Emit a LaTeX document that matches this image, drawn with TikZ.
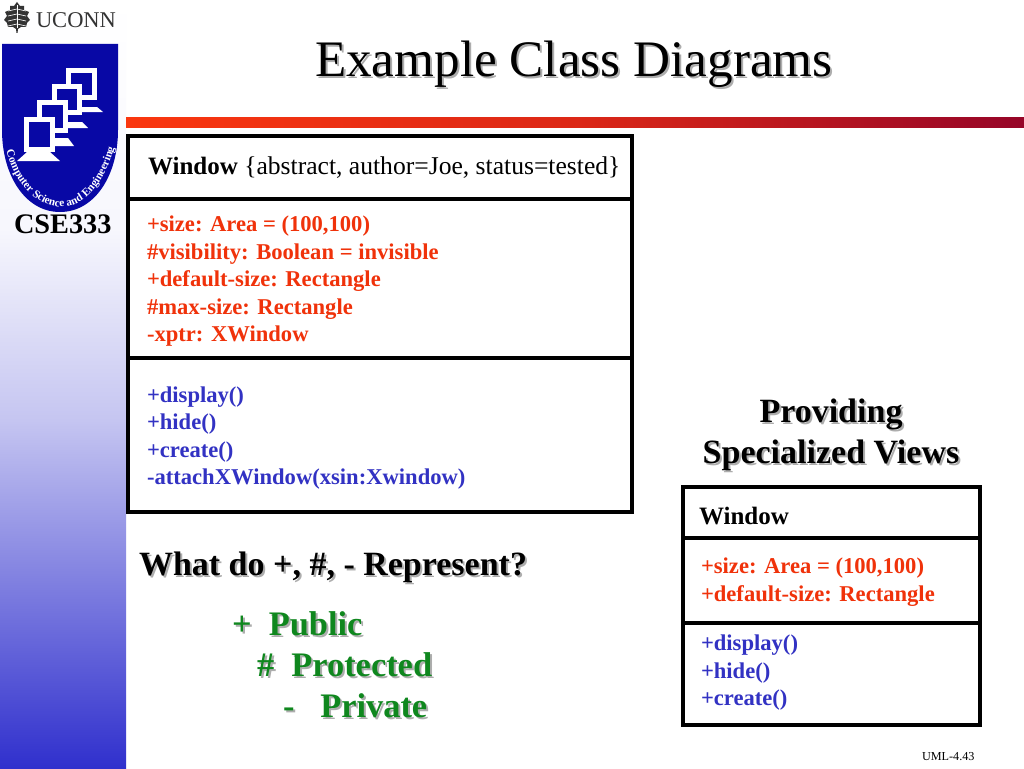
\documentclass[tikz,border=0pt]{standalone}
\usepackage{fontspec}
\setmainfont{Liberation Serif}
\usetikzlibrary{decorations.text,shadings}
\definecolor{sideblue}{RGB}{48,48,205}
\definecolor{logoblue}{RGB}{8,8,165}
\definecolor{redtxt}{RGB}{240,50,10}
\definecolor{bluetxt}{RGB}{50,50,195}
\definecolor{greentxt}{RGB}{15,135,30}
\definecolor{barred}{RGB}{250,55,15}
\definecolor{bardark}{RGB}{150,5,40}
\tikzset{
  txt/.style={anchor=base west,inner sep=0pt,outer sep=0pt},
  big/.style={txt,font=\fontsize{25.6}{25.6}\selectfont},
  attr/.style={txt,font=\fontsize{22.6}{22.6}\selectfont\bfseries,text=redtxt},
  oper/.style={txt,font=\fontsize{22.6}{22.6}\selectfont\bfseries,text=bluetxt},
  box/.style={draw=black,line width=4pt,fill=white},
  head/.style={txt,font=\fontsize{34}{34}\selectfont\bfseries},
  grn/.style={txt,font=\fontsize{34.4}{34.4}\selectfont\bfseries,text=greentxt},
  ctr/.style={anchor=base,inner sep=0pt,font=\fontsize{34}{34}\selectfont\bfseries},
  shd/.style={text=black!32},
  mon/.style={draw=white,line width=5pt,fill=logoblue},
  stand/.style={fill=white,draw=none},
}
\begin{document}
\begin{tikzpicture}[x=1pt,y=-1pt]
\useasboundingbox (0,0) rectangle (1024,768);
\fill[white] (0,0) rectangle (1024,768);
% sidebar
\shade[top color=white,bottom color=white!96!sideblue] (0,0) rectangle (126,230);
\shade[top color=white!96!sideblue,bottom color=white!72!sideblue] (0,230) rectangle (126,420);
\shade[top color=white!72!sideblue,bottom color=sideblue] (0,420) rectangle (126,768);
% bar
\shade[left color=barred,right color=bardark,middle color=barred!70!bardark] (126,117) rectangle (1024,127);
% uconn emblem
\fill[black!80] (17,2) -- (20,6) -- (24,6) -- (24,10) -- (29,12) -- (27,16) -- (30,20) -- (27,23) -- (26,27) -- (21,27) -- (18,29) -- (17.5,33) -- (16.5,33) -- (16,29) -- (13,27) -- (8,27) -- (7,23) -- (4,20) -- (7,16) -- (5,12) -- (10,10) -- (10,6) -- (14,6) -- cycle;
\foreach \yy in {9,14,19,24} {\draw[white,line width=.6pt] (8,\yy+2) -- (17,\yy) -- (26,\yy+2);}
\draw[white,line width=.6pt] (17,5) -- (17,28);
\node[txt,font=\fontsize{22.5}{22.5}\selectfont,text=black!80] (uconn) at (36,28) {UCONN};
% shield
\fill[logoblue] (2,44) -- (118,44) -- (118,130) .. controls (118,175) and (95,212) .. (60,212) .. controls (25,212) and (2,175) .. (2,130) -- cycle;
% monitors, back to front
\draw[mon] (68.5,70.5) rectangle (94.5,97.5);
\fill[stand] (82,107) -- (97,107) -- (103,112) -- (82,112) -- cycle;
\draw[mon] (54.5,86.5) rectangle (79.5,112.5);
\fill[stand] (68,122) -- (82,122) -- (88,128) -- (68,128) -- cycle;
\draw[mon] (39.5,102.5) rectangle (65.5,130.5);
\fill[stand] (55,138) -- (68,138) -- (74,146) -- (55,146) -- cycle;
\draw[mon] (26.5,119.5) rectangle (52.5,149.5);
\fill[stand] (27,152) -- (50,152) -- (60,161) -- (17,161) -- cycle;
\path[postaction={decorate,decoration={text along path,text align=center,
  text={|\fontsize{11.2}{11.2}\selectfont\bfseries\color{white}|Computer Science and Engineering}}}]
  (5,144) .. controls (11,180) and (35,207) .. (62,207) .. controls (86,207) and (107,180) .. (116,141);
\node[txt,font=\fontsize{28.3}{28.3}\selectfont\bfseries,text=black] (cse) at (14,233) {CSE333};
% title
\node[txt,font=\fontsize{51.2}{51.2}\selectfont,shd] (titles) at (317,78) {Example Class Diagrams};
\node[txt,font=\fontsize{51.2}{51.2}\selectfont] (title) at (315,76) {Example Class Diagrams};
% large class
\draw[box] (128,136) rectangle (632,512);
\draw[line width=4pt] (128,199) -- (632,199);
\draw[line width=4pt] (128,358) -- (632,358);
\node[big] (wname) at (148,174) {{\fontsize{25}{25}\selectfont\textbf{Window}} \{abstract, author=Joe, status=tested\}};
\node[attr] (a1) at (147,231) {+size: Area = (100,100)};
\node[attr] (a2) at (147,259) {\#visibility: Boolean = invisible};
\node[attr] (a3) at (147,286) {+default-size: Rectangle};
\node[attr] (a4) at (147,314) {\#max-size: Rectangle};
\node[attr] (a5) at (147,341) {-xptr: XWindow};
\node[oper] (o1) at (147,402) {+display()};
\node[oper] (o2) at (147,429) {+hide()};
\node[oper] (o3) at (147,457) {+create()};
\node[oper] (o4) at (147,484) {-attachXWindow(xsin:Xwindow)};
% question
\node[head,shd] (qs) at (141,577) {What do +, \#, - Represent?};
\node[head] (q) at (139,575) {What do +, \#, - Represent?};
\node[grn,shd] (p1s) at (234,637) {+\ \ Public};
\node[grn] (p1) at (232,635) {+\ \ Public};
\node[grn,shd] (p2s) at (259,678) {\#\ \ Protected};
\node[grn] (p2) at (257,676) {\#\ \ Protected};
\node[grn,shd] (p3s) at (285,719) {-\ \ \ Private};
\node[grn] (p3) at (283,717) {-\ \ \ Private};
% heading right
\node[ctr,shd] (v1s) at (833,424) {Providing};
\node[ctr] (v1) at (831,422) {Providing};
\node[ctr,shd] (v2s) at (833,465) {Specialized Views};
\node[ctr] (v2) at (831,463) {Specialized Views};
% small class
\draw[box] (683,487) rectangle (980,725);
\draw[line width=4pt] (683,538) -- (980,538);
\draw[line width=4pt] (683,623) -- (980,623);
\node[big,font=\fontsize{25}{25}\selectfont] (sw) at (699,524) {\textbf{Window}};
\node[attr] (b1) at (701,573) {+size: Area = (100,100)};
\node[attr] (b2) at (701,601) {+default-size: Rectangle};
\node[oper] (c1) at (701,650) {+display()};
\node[oper] (c2) at (701,678) {+hide()};
\node[oper] (c3) at (701,705) {+create()};
\node[txt,font=\fontsize{12.2}{12.2}\selectfont] (pg) at (922,760) {UML-4.43};
\end{tikzpicture}
\end{document}
